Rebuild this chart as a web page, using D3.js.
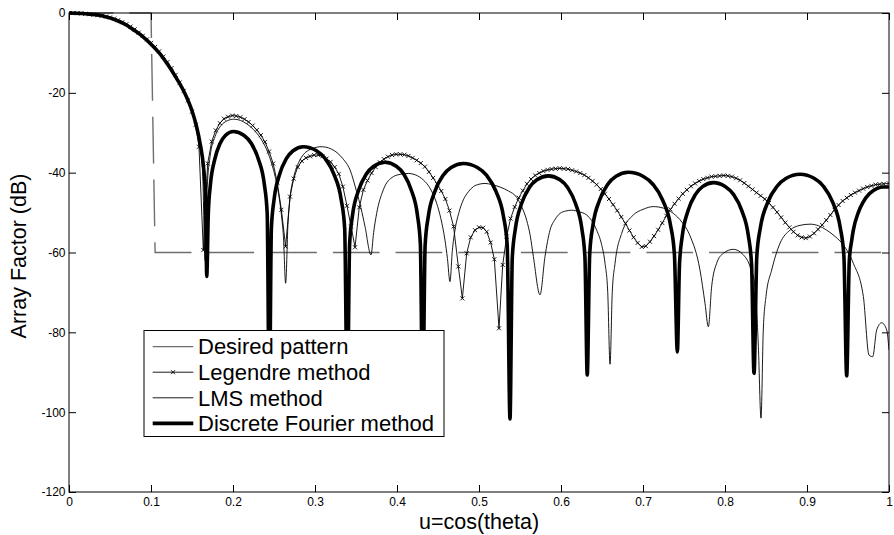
<!DOCTYPE html>
<html><head><meta charset="utf-8">
<script src="https://cdn.jsdelivr.net/npm/d3@7"></script>
<style>
html,body{margin:0;padding:0;background:#fff;}
svg{display:block;font-family:"Liberation Sans",Arial,Helvetica,sans-serif;}
</style></head><body>
<svg id="chart" width="894" height="535"></svg>
<script>
// ---------- data ----------
const seriesNames = ["Desired pattern", "Legendre method", "LMS method", "Discrete Fourier method"];
const xTicks = [0, 0.1, 0.2, 0.3, 0.4, 0.5, 0.6, 0.7, 0.8, 0.9, 1];
const xTickLabels = ["0", "0.1", "0.2", "0.3", "0.4", "0.5", "0.6", "0.7", "0.8", "0.9", "1"];
const yTicks = [-120, -100, -80, -60, -40, -20, 0];
const yTickLabels = ["-120", "-100", "-80", "-60", "-40", "-20", "0"];
const xTitle = "u=cos(theta)";
const yTitle = "Array Factor (dB)";

// [u, dB]
const desired = [[0,0],[0.1,0],[0.105,-60],[1,-60]];

const legendre = [[0,0],[0.005,0],[0.01,-0.05],[0.015,-0.1],[0.02,-0.2],[0.025,-0.3],[0.03,-0.4],[0.035,-0.55],[0.04,-0.7],[0.045,-0.9],[0.05,-1.1],[0.055,-1.4],[0.06,-1.8],[0.065,-2.3],[0.07,-2.8],[0.075,-3.4],[0.08,-4.1],[0.085,-4.9],[0.09,-5.7],[0.095,-6.6],[0.1,-7.5],[0.105,-8.5],[0.11,-9.6],[0.115,-10.9],[0.12,-12.3],[0.125,-13.8],[0.13,-15.5],[0.135,-17.4],[0.14,-19.5],[0.145,-21.9],[0.15,-24.7],[0.1545,-28.0],[0.1585,-33.5],[0.1638,-59.4],[0.1691,-37.7],[0.174,-32.2],[0.179,-29.4],[0.184,-27.6],[0.189,-26.5],[0.194,-26.0],[0.199,-25.7],[0.204,-25.8],[0.209,-26.1],[0.214,-26.6],[0.219,-27.3],[0.224,-28.2],[0.229,-29.3],[0.234,-30.6],[0.239,-32.3],[0.244,-34.7],[0.249,-37.7],[0.254,-42.5],[0.259,-49.3],[0.2642,-58.5],[0.2695,-46],[0.274,-41.5],[0.279,-38.6],[0.284,-37.1],[0.289,-36.3],[0.294,-35.9],[0.299,-35.6],[0.304,-35.6],[0.309,-35.9],[0.314,-36.5],[0.319,-37.3],[0.324,-38.6],[0.329,-40.3],[0.334,-43.5],[0.339,-48.3],[0.344,-53.5],[0.3488,-58.7],[0.354,-48.7],[0.359,-44.3],[0.364,-42.0],[0.369,-40.1],[0.374,-38.6],[0.379,-37.4],[0.384,-36.6],[0.389,-36.0],[0.394,-35.6],[0.399,-35.4],[0.404,-35.4],[0.409,-35.5],[0.414,-35.8],[0.419,-36.3],[0.424,-36.9],[0.429,-37.6],[0.434,-38.5],[0.439,-39.8],[0.444,-41.3],[0.449,-42.9],[0.454,-44.6],[0.459,-46.6],[0.464,-49.5],[0.469,-53.5],[0.4748,-63.5],[0.4797,-71.5],[0.485,-60.2],[0.4899,-56.2],[0.4951,-54.4],[0.5,-53.7],[0.505,-53.8],[0.5094,-54.8],[0.5142,-57.5],[0.5187,-61.7],[0.5244,-79],[0.5289,-63.1],[0.5337,-56],[0.5385,-51.5],[0.5435,-48.6],[0.5485,-46.3],[0.5535,-44.5],[0.5585,-42.8],[0.5635,-41.6],[0.5685,-40.7],[0.5735,-40.1],[0.5785,-39.6],[0.5835,-39.3],[0.5885,-39.1],[0.5935,-39.0],[0.5985,-38.9],[0.6035,-39.0],[0.6085,-39.1],[0.6135,-39.4],[0.6185,-39.7],[0.6235,-40.1],[0.6285,-40.6],[0.6335,-41.3],[0.6385,-42.1],[0.6435,-43.0],[0.6485,-44.1],[0.6535,-45.3],[0.6585,-46.6],[0.6635,-48.0],[0.6685,-49.5],[0.6735,-51.1],[0.6785,-52.7],[0.6835,-54.5],[0.6885,-56.2],[0.6935,-57.6],[0.6985,-58.6],[0.7035,-58.4],[0.7085,-57.3],[0.7135,-55.9],[0.7185,-54.3],[0.7235,-52.6],[0.7285,-50.8],[0.7335,-49.2],[0.7385,-47.8],[0.7435,-46.5],[0.7485,-45.3],[0.7535,-44.3],[0.7585,-43.4],[0.7635,-42.7],[0.7685,-42.1],[0.7735,-41.6],[0.7785,-41.3],[0.7835,-41.0],[0.7885,-40.9],[0.7935,-40.8],[0.7985,-40.7],[0.8035,-40.8],[0.8085,-41.0],[0.8135,-41.4],[0.8185,-41.9],[0.8235,-42.6],[0.8285,-43.4],[0.8335,-44.2],[0.8385,-45.0],[0.8435,-45.8],[0.8485,-46.6],[0.8535,-47.6],[0.8585,-48.7],[0.8635,-49.9],[0.8685,-51.2],[0.8735,-52.5],[0.8785,-53.7],[0.8835,-54.8],[0.8885,-55.7],[0.8935,-56.2],[0.8985,-56.4],[0.9035,-56.0],[0.9085,-55.2],[0.9135,-54.2],[0.9185,-53.1],[0.9235,-51.9],[0.9285,-50.6],[0.9335,-49.3],[0.9385,-48.1],[0.9435,-47.1],[0.9485,-46.3],[0.9535,-45.6],[0.9585,-45.0],[0.9635,-44.5],[0.9685,-44.0],[0.9735,-43.6],[0.9785,-43.3],[0.9835,-43.0],[0.9885,-42.9],[0.9935,-42.8],[1.0,-42.7]];

const lms = [[0,0],[0.02,-0.2],[0.04,-0.7],[0.06,-2.0],[0.08,-4.4],[0.10,-7.7],[0.12,-12.7],[0.13,-15.8],[0.14,-19.5],[0.15,-24.4],[0.155,-28],[0.16,-33.5],[0.163,-40],[0.166,-62],
[0.1685,-44],[0.172,-36],[0.178,-31],[0.185,-28.3],[0.193,-27.0],[0.201,-26.6],[0.209,-26.9],[0.217,-27.8],[0.225,-29.2],[0.233,-31.2],[0.241,-34.2],[0.248,-38.3],[0.254,-43.5],[0.259,-50.5],[0.2615,-56],[0.2642,-67.7],
[0.267,-53],[0.2695,-46.5],[0.274,-41.2],[0.28,-37.5],[0.2857,-35.5],[0.292,-34.4],[0.299,-33.8],[0.306,-33.5],[0.313,-33.6],[0.32,-34.1],[0.327,-35.0],[0.334,-36.5],[0.3427,-39.3],[0.3508,-44.8],[0.356,-48.8],[0.361,-53.5],[0.3683,-60.6],
[0.3715,-55],[0.3752,-50.2],[0.3833,-44.3],[0.3955,-41],[0.4045,-40.4],[0.4138,-40.2],[0.423,-40.6],[0.432,-41.8],[0.44,-43.8],[0.4484,-47.7],[0.4535,-51.5],[0.4585,-56.9],[0.4615,-61.5],[0.4646,-67.3],
[0.4675,-59.5],[0.4707,-54.4],[0.4755,-50.0],[0.4809,-46.8],[0.487,-44.8],[0.4931,-43.5],[0.5,-42.9],[0.5073,-42.7],[0.516,-43.0],[0.5256,-43.6],[0.536,-44.6],[0.546,-46.2],[0.552,-48.5],[0.5581,-51.9],[0.5625,-55.8],[0.5663,-61],[0.5744,-70.6],
[0.5805,-61],[0.5866,-54.4],[0.5925,-51.8],[0.5988,-50.2],[0.606,-49.6],[0.613,-49.4],[0.622,-49.8],[0.6313,-50.6],[0.6435,-54.4],[0.6495,-58],[0.6537,-62.7],[0.657,-70],[0.6598,-88],
[0.6625,-70],[0.6659,-62.7],[0.674,-55.2],[0.6882,-50.6],[0.70,-49.2],[0.7126,-48.5],[0.725,-48.9],[0.737,-50.2],[0.7475,-52.4],[0.7573,-55.8],[0.7695,-64.4],[0.7756,-72.7],[0.7797,-78.6],
[0.7837,-68.6],[0.7898,-62.7],[0.798,-60.2],[0.8102,-59.2],[0.8224,-60.6],[0.8305,-63.5],[0.8366,-68.6],[0.8407,-83.6],[0.8439,-101.5],
[0.8467,-79.4],[0.85,-71],[0.8569,-64.4],[0.8671,-57.7],[0.8793,-54.4],[0.8915,-53.2],[0.9037,-52.9],[0.914,-53.3],[0.924,-54.4],[0.9343,-56],[0.9443,-58.1],[0.9565,-62.7],[0.9687,-71],[0.9756,-85.7],[0.9801,-86.1],[0.985,-79.4],[0.9911,-77.6],[0.9972,-79.4],[1.0,-84.4]];

const fourier = [[0,0],[0.02,-0.2],[0.04,-0.7],[0.06,-2.0],[0.07,-3.0],[0.08,-4.4],[0.09,-5.9],[0.10,-7.8],[0.11,-10.0],[0.12,-12.8],[0.13,-16.0],[0.14,-19.6],[0.15,-24.5],[0.155,-28],[0.16,-32.8],[0.164,-38.5],[0.1665,-46],[0.168,-66],
[0.1699,-50.2],[0.1725,-42.9],[0.1777,-36.7],[0.1842,-32.7],[0.1907,-30.7],[0.2004,-29.7],[0.2136,-30.7],[0.2224,-32.7],[0.2311,-36.7],[0.2382,-42.9],[0.2417,-50.2],[0.2443,-100],
[0.2468,-54.0],[0.2501,-46.7],[0.2567,-40.5],[0.265,-36.5],[0.2733,-34.5],[0.2857,-33.5],[0.3018,-34.5],[0.3126,-36.5],[0.3233,-40.5],[0.3319,-46.7],[0.3362,-54.0],[0.3394,-100],
[0.3422,-57.9],[0.3458,-50.6],[0.3532,-44.4],[0.3624,-40.4],[0.3716,-38.4],[0.3854,-37.4],[0.3992,-38.4],[0.4084,-40.4],[0.4175,-44.4],[0.4249,-50.6],[0.4285,-57.9],[0.4313,-100],
[0.4343,-58.2],[0.4382,-50.9],[0.4462,-44.7],[0.4561,-40.7],[0.466,-38.7],[0.4809,-37.7],[0.498,-38.7],[0.5094,-40.7],[0.5207,-44.7],[0.5298,-50.9],[0.5344,-58.2],[0.5378,-101.7],
[0.5406,-61.3],[0.5444,-54.0],[0.5518,-47.8],[0.5612,-43.8],[0.5706,-41.8],[0.5846,-40.8],[0.5988,-41.8],[0.6083,-43.8],[0.6178,-47.8],[0.6254,-54.0],[0.6292,-61.3],[0.632,-90.7],
[0.635,-60.4],[0.639,-53.1],[0.647,-46.9],[0.6571,-42.9],[0.6671,-40.9],[0.6821,-39.9],[0.70,-40.9],[0.712,-42.9],[0.724,-46.9],[0.7335,-53.1],[0.7383,-60.4],[0.7419,-84.9],
[0.7445,-63.0],[0.748,-55.7],[0.755,-49.5],[0.7638,-45.5],[0.7726,-43.5],[0.7857,-42.5],[0.8006,-43.5],[0.8106,-45.5],[0.8205,-49.5],[0.8284,-55.7],[0.8324,-63.0],[0.8354,-90.3],
[0.8388,-60.9],[0.8433,-53.6],[0.8522,-47.4],[0.8635,-43.4],[0.8747,-41.4],[0.8915,-40.4],[0.9086,-41.4],[0.92,-43.4],[0.9313,-47.4],[0.9404,-53.6],[0.945,-60.9],[0.9484,-90.9],
[0.9516,-62],[0.9545,-57],[0.9565,-54.4],[0.9625,-50],[0.9687,-47.3],[0.976,-45.3],[0.985,-44.0],[0.993,-43.6],[1.0,-43.6]];

// ---------- layout ----------
const W = 894, H = 535;
const M = {l: 69, t: 13, r: 5, b: 43};
const svg = d3.select("#chart");
svg.append("rect").attr("width", W).attr("height", H).attr("fill", "#fff");

const x = d3.scaleLinear().domain([0, 1]).range([M.l, W - M.r]);
const y = d3.scaleLinear().domain([-120, 0]).range([H - M.b, M.t]);

svg.append("defs").append("clipPath").attr("id", "plotclip")
  .append("rect").attr("x", x(0)).attr("y", y(0) - 3).attr("width", x(1) - x(0)).attr("height", y(-120) - y(0) + 3);

const plot = svg.append("g").attr("clip-path", "url(#plotclip)");

const lineLin = d3.line().x(d => x(d[0])).y(d => y(d[1]));
const lineSmooth = d3.line().x(d => x(d[0])).y(d => y(d[1])).curve(d3.curveMonotoneX);

// Desired pattern (dashed)
plot.append("path").datum(desired).attr("d", lineLin)
  .attr("fill", "none").attr("stroke", "#6e6e6e").attr("stroke-width", 1.4)
  .attr("stroke-dasharray", "46.7,16").attr("stroke-dashoffset", 2.3);

// Legendre
plot.append("path").datum(legendre).attr("d", lineLin)
  .attr("fill", "none").attr("stroke", "#000").attr("stroke-width", 0.9);
const mk = "M-2,-2L2,2M-2,2L2,-2";
plot.append("g").selectAll("path").data(legendre).join("path")
  .attr("d", mk).attr("transform", d => `translate(${x(d[0])},${y(d[1])})`)
  .attr("fill", "none").attr("stroke", "#000").attr("stroke-width", 0.9);

// LMS
plot.append("path").datum(lms).attr("d", lineSmooth)
  .attr("fill", "none").attr("stroke", "#000").attr("stroke-width", 0.9);

// Discrete Fourier
plot.append("path").datum(fourier).attr("d", lineSmooth)
  .attr("fill", "none").attr("stroke", "#000").attr("stroke-width", 3.6)
  .attr("stroke-linejoin", "round").attr("stroke-linecap", "round");

// ---------- axes ----------
const tk = 7;
const fmtX = (d, i) => xTickLabels[i];
const fmtY = (d, i) => yTickLabels[i];
const gx = svg.append("g").attr("transform", `translate(0,${y(-120)})`)
  .call(d3.axisBottom(x).tickValues(xTicks).tickFormat(fmtX).tickSizeInner(-tk).tickSizeOuter(0).tickPadding(5));
const gxt = svg.append("g").attr("transform", `translate(0,${y(0)})`)
  .call(d3.axisTop(x).tickValues(xTicks).tickFormat("").tickSizeInner(-tk).tickSizeOuter(0));
const gy = svg.append("g").attr("transform", `translate(${x(0)},0)`)
  .call(d3.axisLeft(y).tickValues(yTicks).tickFormat(fmtY).tickSizeInner(-tk).tickSizeOuter(0).tickPadding(3.5));
const gyr = svg.append("g").attr("transform", `translate(${x(1)},0)`)
  .call(d3.axisRight(y).tickValues(yTicks).tickFormat("").tickSizeInner(-tk).tickSizeOuter(0));
[gx, gxt, gy, gyr].forEach(g => {
  g.select(".domain").remove();
  g.selectAll(".tick line").attr("stroke", "#000").attr("stroke-width", 1);
  g.selectAll(".tick text").attr("fill", "#000").attr("font-size", 12)
    .attr("font-family", '"Liberation Sans",Arial,Helvetica,sans-serif');
});

svg.append("rect").attr("x", x(0)).attr("y", y(0)).attr("width", x(1) - x(0)).attr("height", y(-120) - y(0))
  .attr("fill", "none").attr("stroke", "#000").attr("stroke-width", 1);

svg.append("text").attr("x", (x(0) + x(1)) / 2).attr("y", 529).attr("text-anchor", "middle")
  .attr("font-size", 21.5).attr("fill", "#000").text(xTitle);
svg.append("text").attr("transform", `translate(26,256) rotate(-90)`).attr("text-anchor", "middle")
  .attr("font-size", 21.5).attr("fill", "#000").text(yTitle);

// ---------- legend ----------
const lg = svg.append("g");
const lgBox = {x: 144, y: 330.5, w: 300, h: 106};
lg.append("rect").attr("x", lgBox.x).attr("y", lgBox.y).attr("width", lgBox.w).attr("height", lgBox.h)
  .attr("fill", "#fff").attr("stroke", "#000").attr("stroke-width", 1);
const styles = [
  {stroke: "#6e6e6e", w: 1.4, marker: false},
  {stroke: "#000", w: 0.9, marker: true},
  {stroke: "#000", w: 0.9, marker: false},
  {stroke: "#000", w: 3.6, marker: false}
];
const rowY = i => 346.6 + i * 25.6;
seriesNames.forEach((name, i) => {
  const yy = rowY(i);
  lg.append("line").attr("x1", 152.7).attr("x2", 193.3).attr("y1", yy).attr("y2", yy)
    .attr("stroke", styles[i].stroke).attr("stroke-width", styles[i].w);
  if (styles[i].marker) {
    lg.append("path").attr("d", mk).attr("transform", `translate(173,${yy})`)
      .attr("fill", "none").attr("stroke", "#000").attr("stroke-width", 0.9);
  }
  lg.append("text").attr("x", 198).attr("y", yy).attr("dy", "0.35em")
    .attr("font-size", 22).attr("fill", "#000").text(name);
});
</script>
</body></html>
